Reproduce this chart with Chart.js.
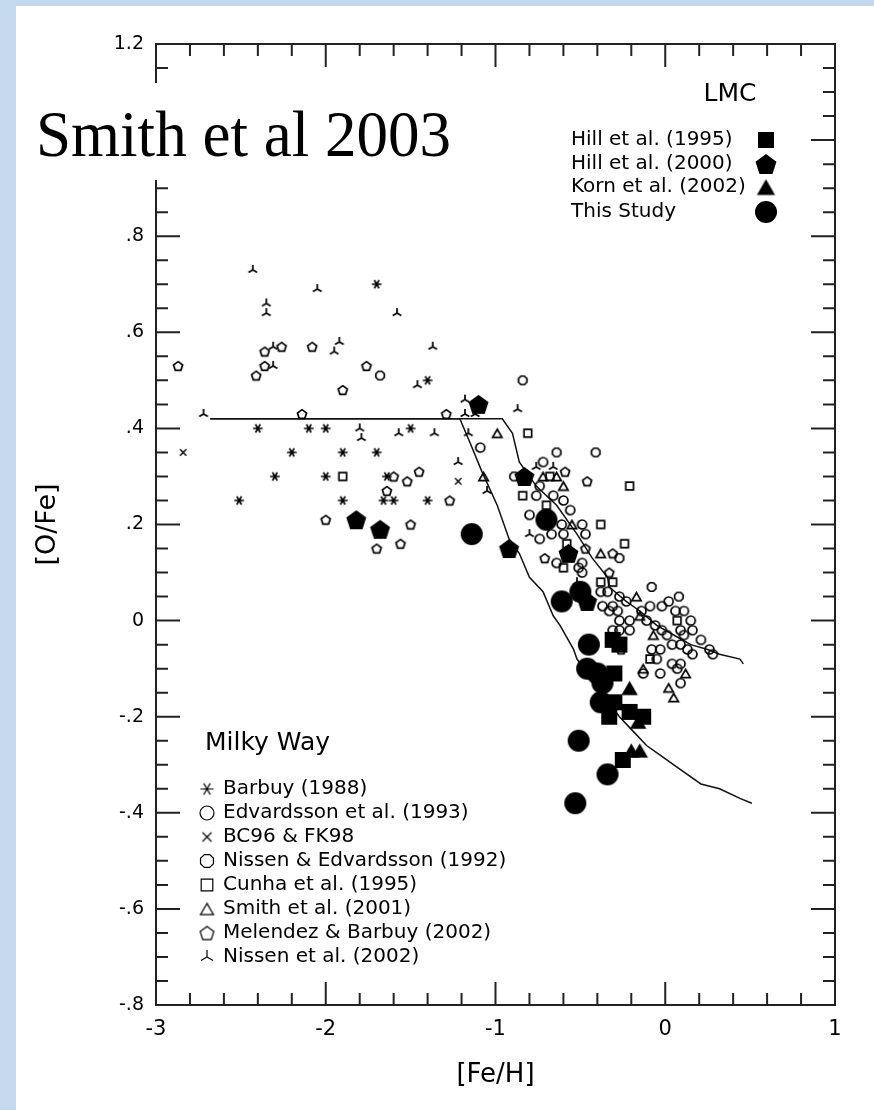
<!DOCTYPE html>
<html>
<head>
<meta charset="utf-8">
<script src="https://cdn.jsdelivr.net/npm/chart.js@4.4.1/dist/chart.umd.min.js"></script>
<style>
  html, body { margin: 0; padding: 0; background: #c5d9ee; }
  #panel { position: absolute; left: 16px; top: 6px; width: 858px; height: 1104px; background: #fff; }
  #c { position: absolute; left: 0; top: 0; display: block; }
</style>
</head>
<body>
<div id="panel"></div>
<canvas id="c" width="874" height="1110"></canvas>
<script>
// ---- [Fe/H], [O/Fe] pairs per source ----
const barbuy1988 = [[-1.70,0.70],[-1.40,0.50],[-2.40,0.40],[-2.10,0.40],[-2.00,0.40],[-1.50,0.40],
  [-2.20,0.35],[-1.90,0.35],[-1.70,0.35],[-2.30,0.30],[-2.00,0.30],[-1.64,0.30],[-2.51,0.25],
  [-1.90,0.25],[-1.66,0.25],[-1.60,0.25],[-1.40,0.25]];
const edvardsson1993 = [[-1.09,0.36],[-0.72,0.33],[-0.74,0.28],[-0.76,0.26],[-0.66,0.26],[-0.60,0.25],
  [-0.56,0.23],[-0.80,0.22],[-0.49,0.20],[-0.61,0.20],[-0.47,0.18],[-0.74,0.17],[-0.67,0.18],
  [-0.60,0.18],[-0.64,0.12],[-0.49,0.12],[-0.51,0.11],[-0.49,0.10],[-0.38,0.06],[-0.34,0.06],
  [-0.27,0.05],[-0.23,0.04],[-0.37,0.03],[-0.31,0.03],[-0.33,0.02],[-0.28,0.02],[0.02,0.04],
  [-0.02,0.03],[-0.09,0.03],[-0.14,0.02],[0.06,0.02],[0.11,0.02],[0.15,0.00],[-0.11,0.00],
  [-0.06,-0.01],[-0.21,0.00],[-0.27,0.00],[-0.31,-0.02],[-0.27,-0.02],[-0.21,-0.02],[-0.02,-0.02],
  [0.01,-0.03],[0.09,-0.02],[0.11,-0.03],[0.16,-0.02],[0.21,-0.04],[0.26,-0.06],[0.28,-0.07],
  [-0.08,-0.06],[-0.03,-0.06],[0.04,-0.05],[0.09,-0.05],[0.13,-0.06],[0.16,-0.07],[-0.05,-0.08],
  [0.04,-0.09],[0.09,-0.09],[0.07,-0.10],[-0.13,-0.11],[-0.03,-0.11],[0.09,-0.13]];
const bc96fk98 = [[-2.84,0.35],[-1.22,0.29]];
const nissenEdv1992 = [[-1.68,0.51],[-0.84,0.50],[-0.64,0.35],[-0.41,0.35],[-0.89,0.30],[-0.08,0.07],
  [0.08,0.05],[-0.27,0.13]];
const cunha1995 = [[-1.90,0.30],[-0.81,0.39],[-0.68,0.30],[-0.21,0.28],[-0.84,0.26],[-0.70,0.24],
  [-0.38,0.20],[-0.24,0.16],[-0.58,0.16],[-0.60,0.11],[-0.38,0.08],[-0.31,0.08],[0.07,0.00],[-0.09,-0.08]];
const smith2001 = [[-0.99,0.39],[-1.07,0.30],[-0.72,0.30],[-0.64,0.30],[-0.60,0.28],[-0.55,0.20],
  [-0.38,0.14],[-0.17,0.05],[-0.15,0.01],[-0.07,-0.03],[-0.13,-0.10],[0.12,-0.11],[0.02,-0.14],[0.05,-0.16]];
const melendez2002 = [[-2.87,0.53],[-2.36,0.56],[-2.26,0.57],[-2.08,0.57],[-2.36,0.53],[-2.41,0.51],
  [-1.76,0.53],[-1.90,0.48],[-2.14,0.43],[-1.29,0.43],[-1.45,0.31],[-1.64,0.27],[-1.27,0.25],
  [-2.00,0.21],[-1.50,0.20],[-1.70,0.15],[-1.56,0.16],[-1.60,0.30],[-1.52,0.29],[-0.59,0.31],
  [-0.46,0.29],[-0.47,0.15],[-0.31,0.14],[-0.71,0.13],[-0.33,0.10],[-0.26,-0.06]];
const nissen2002 = [[-2.43,0.73],[-2.05,0.69],[-2.35,0.66],[-2.35,0.64],[-1.58,0.64],[-1.92,0.58],
  [-1.95,0.56],[-1.37,0.57],[-2.31,0.57],[-2.31,0.53],[-1.46,0.49],[-1.18,0.46],[-2.72,0.43],
  [-1.18,0.43],[-1.12,0.43],[-1.80,0.40],[-1.79,0.38],[-1.57,0.39],[-1.36,0.39],[-1.16,0.39],
  [-1.22,0.33],[-1.05,0.27],[-0.87,0.44],[-0.76,0.32],[-0.66,0.32],[-0.80,0.18],[-0.52,0.08]];

// LMC samples
const hill1995 = [[-0.31,-0.04],[-0.27,-0.05],[-0.30,-0.11],[-0.30,-0.17],[-0.33,-0.20],[-0.21,-0.19],
  [-0.13,-0.20],[-0.25,-0.29]];
const hill2000 = [[-1.10,0.45],[-1.82,0.21],[-1.68,0.19],[-0.92,0.15],[-0.83,0.30],[-0.57,0.14],[-0.46,0.04]];
const korn2002 = [[-0.21,-0.14],[-0.16,-0.21],[-0.20,-0.27],[-0.15,-0.27]];
const thisStudy = [[-1.14,0.18],[-0.70,0.21],[-0.61,0.04],[-0.50,0.06],[-0.45,-0.05],[-0.46,-0.10],
  [-0.40,-0.11],[-0.37,-0.13],[-0.38,-0.17],[-0.51,-0.25],[-0.34,-0.32],[-0.53,-0.38]];

// chemical evolution model tracks
const modelSteep = [[-2.68,0.42],[-1.21,0.42],[-1.15,0.37],[-1.08,0.31],[-0.99,0.24],[-0.92,0.17],
  [-0.86,0.14],[-0.80,0.09],[-0.72,0.06],[-0.66,0.01],[-0.62,-0.01],[-0.54,-0.06],[-0.52,-0.08],
  [-0.27,-0.20],[-0.19,-0.23],[-0.11,-0.26],[-0.03,-0.28],[0.09,-0.31],[0.21,-0.34],[0.32,-0.35],
  [0.44,-0.37],[0.51,-0.38]];
const modelShallow = [[-2.68,0.42],[-0.96,0.42],[-0.90,0.39],[-0.86,0.33],[-0.76,0.28],[-0.64,0.24],
  [-0.52,0.18],[-0.43,0.13],[-0.34,0.09],[-0.33,0.07],[-0.23,0.04],[-0.15,0.02],[-0.05,-0.01],
  [0.05,-0.03],[0.15,-0.05],[0.25,-0.06],[0.32,-0.07],[0.44,-0.08],[0.46,-0.09]];

// axis labels
const xTickLabels = ['-3', '-2', '-1', '0', '1'];
const mwLegend = ['Barbuy (1988)', 'Edvardsson et al. (1993)', 'BC96 & FK98', 'Nissen & Edvardsson (1992)',
  'Cunha et al. (1995)', 'Smith et al. (2001)', 'Melendez & Barbuy (2002)', 'Nissen et al. (2002)'];
const lmcLegend = ['Hill et al. (1995)', 'Hill et al. (2000)', 'Korn et al. (2002)', 'This Study'];

// ---- plotting symbols drawn on small canvases ----
function marker(kind, r, filled, lw) {
  const pad = Math.ceil(lw) + 3;
  const s = Math.ceil(2 * r + 2 * pad);
  const cv = document.createElement('canvas');
  cv.width = s; cv.height = s;
  const g = cv.getContext('2d');
  const c = s / 2;
  g.strokeStyle = '#000'; g.fillStyle = '#000'; g.lineWidth = lw;
  g.lineJoin = 'miter'; g.lineCap = 'butt';
  const poly = (n, rot, cy) => {
    for (let i = 0; i < n; i++) {
      const a = rot + i * 2 * Math.PI / n;
      const px = c + r * Math.sin(a), py = cy - r * Math.cos(a);
      if (i) g.lineTo(px, py); else g.moveTo(px, py);
    }
    g.closePath();
  };
  const spokes = (angles) => {
    angles.forEach(a => { g.moveTo(c, c); g.lineTo(c + r * Math.sin(a), c - r * Math.cos(a)); });
  };
  let lineOnly = false;
  g.beginPath();
  switch (kind) {
    case 'circle': g.arc(c, c, r, 0, 2 * Math.PI); break;
    case 'oct': poly(8, Math.PI / 8, c); break;
    case 'pent': poly(5, 0, c + r * 0.1); break;
    case 'rect': g.rect(c - r, c - r, 2 * r, 2 * r); break;
    case 'tri': poly(3, 0, c + r * 0.25); break;
    case 'x': g.moveTo(c - r, c - r); g.lineTo(c + r, c + r); g.moveTo(c + r, c - r); g.lineTo(c - r, c + r); lineOnly = true; break;
    case 'ast': spokes([Math.PI/2, Math.PI/6, -Math.PI/6, -Math.PI/2, 7*Math.PI/6, 5*Math.PI/6]); lineOnly = true; break;
    case 'trip': spokes([0, 2*Math.PI/3, 4*Math.PI/3]); lineOnly = true; break;
  }
  if (filled && !lineOnly) g.fill(); else g.stroke();
  return cv;
}

const LW = 1.7;
const sym = {
  barbuy:   marker('ast', 4.8, false, LW),
  edv:      marker('circle', 4.5, false, LW),
  bc:       marker('x', 3.2, false, 1.4),
  ne:       marker('oct', 4.6, false, LW),
  cunha:    marker('rect', 3.8, false, LW),
  smith:    marker('tri', 5.4, false, LW),
  melendez: marker('pent', 4.8, false, LW),
  nissen:   marker('trip', 5, false, LW),
  hill95:   marker('rect', 8, true, 1),
  hill00:   marker('pent', 10.5, true, 1),
  korn:     marker('tri', 9.5, true, 1),
  study:    marker('circle', 11, true, 1)
};
const legSym = [
  marker('ast', 6.5, false, 1.2), marker('circle', 7, false, 1.2), marker('x', 4.5, false, 1.2),
  marker('oct', 7, false, 1.2), marker('rect', 5.8, false, 1.2), marker('tri', 7.5, false, 1.2),
  marker('pent', 7.2, false, 1.2), marker('trip', 7, false, 1.2)
];
const lmcSym = [sym.hill95, marker('pent', 11, true, 1), marker('tri', 10.5, true, 1), sym.study];

const pts = arr => arr.map(([x, y]) => ({ x, y }));
const scatterSet = (label, arr, style) => ({
  label, data: pts(arr), pointStyle: style, pointRadius: 5, showLine: false, order: 1
});
const lineSet = (label, arr) => ({
  label, data: pts(arr), showLine: true, pointRadius: 0, borderColor: '#111',
  borderWidth: 1.5, fill: false, tension: 0, order: 10
});

// ---- frame, inward ticks, title block and legends ----
const decorations = {
  id: 'decorations',
  beforeDatasetsDraw(chart) {
    const { ctx, chartArea: a, scales: { x, y } } = chart;
    ctx.save();
    ctx.strokeStyle = '#222';
    ctx.lineWidth = 2;
    ctx.strokeRect(a.left, a.top, a.right - a.left, a.bottom - a.top);
    ctx.beginPath();
    for (let i = 0; i <= 20; i++) {
      const px = x.getPixelForValue(-3 + i * 0.2);
      const L = i % 5 === 0 ? 23 : 12;
      ctx.moveTo(px, a.bottom); ctx.lineTo(px, a.bottom - L);
      ctx.moveTo(px, a.top); ctx.lineTo(px, a.top + L);
    }
    for (let i = 0; i <= 40; i++) {
      const py = y.getPixelForValue(-0.8 + i * 0.05);
      const L = i % 4 === 0 ? 24 : 12;
      ctx.moveTo(a.left, py); ctx.lineTo(a.left + L, py);
      ctx.moveTo(a.right, py); ctx.lineTo(a.right - L, py);
    }
    ctx.stroke();
    ctx.restore();
  },
  afterDraw(chart) {
    const ctx = chart.ctx;
    ctx.save();
    // headline block
    ctx.fillStyle = '#fff';
    ctx.fillRect(16, 83, 440, 97);
    ctx.fillStyle = '#000';
    ctx.font = '66px "Liberation Serif", "Times New Roman", serif';
    ctx.textBaseline = 'alphabetic';
    const head = 'Smith et al 2003';
    const w = ctx.measureText(head).width;
    ctx.translate(36, 156);
    ctx.scale(415 / w, 1);
    ctx.fillText(head, 0, 0);
    ctx.restore();

    ctx.save();
    ctx.fillStyle = '#000';
    ctx.textBaseline = 'middle';
    // LMC key
    ctx.font = '25px "DejaVu Sans"';
    ctx.textAlign = 'center';
    ctx.fillText('LMC', 730, 94);
    ctx.textAlign = 'left';
    ctx.font = '20px "DejaVu Sans"';
    const lmcY = [140, 164, 187, 212];
    lmcLegend.forEach((t, i) => {
      ctx.fillText(t, 571, lmcY[i]);
      const m = lmcSym[i];
      ctx.drawImage(m, 766 - m.width / 2, lmcY[i] - m.height / 2);
    });
    // Milky Way key
    ctx.font = '25px "DejaVu Sans"';
    ctx.fillText('Milky Way', 205, 743);
    ctx.font = '20px "DejaVu Sans"';
    mwLegend.forEach((t, i) => {
      const yy = 789 + 24 * i;
      ctx.fillText(t, 223, yy);
      const m = legSym[i];
      ctx.drawImage(m, 207 - m.width / 2, yy - m.height / 2);
    });
    ctx.restore();
  }
};

new Chart(document.getElementById('c'), {
  type: 'scatter',
  data: {
    datasets: [
      scatterSet('This Study', thisStudy, sym.study),
      scatterSet('Hill et al. (1995)', hill1995, sym.hill95),
      scatterSet('Hill et al. (2000)', hill2000, sym.hill00),
      scatterSet('Korn et al. (2002)', korn2002, sym.korn),
      scatterSet('Barbuy (1988)', barbuy1988, sym.barbuy),
      scatterSet('Edvardsson et al. (1993)', edvardsson1993, sym.edv),
      scatterSet('BC96 & FK98', bc96fk98, sym.bc),
      scatterSet('Nissen & Edvardsson (1992)', nissenEdv1992, sym.ne),
      scatterSet('Cunha et al. (1995)', cunha1995, sym.cunha),
      scatterSet('Smith et al. (2001)', smith2001, sym.smith),
      scatterSet('Melendez & Barbuy (2002)', melendez2002, sym.melendez),
      scatterSet('Nissen et al. (2002)', nissen2002, sym.nissen),
      lineSet('model A', modelSteep),
      lineSet('model B', modelShallow)
    ]
  },
  options: {
    responsive: false,
    animation: false,
    events: [],
    layout: { padding: { top: 44, right: 39, left: 0, bottom: 0 } },
    plugins: { legend: { display: false }, tooltip: { enabled: false } },
    scales: {
      x: {
        type: 'linear', min: -3, max: 1,
        grid: { display: false, drawTicks: false },
        border: { display: false },
        ticks: {
          stepSize: 1, padding: 12, maxRotation: 0, color: '#000',
          font: { family: 'DejaVu Sans', size: 21 },
          callback: v => xTickLabels[Math.round(v) + 3]
        },
        title: {
          display: true, text: '[Fe/H]', color: '#000',
          font: { family: 'DejaVu Sans', size: 26 },
          padding: { top: 0, bottom: 19 }
        },
        afterFit: s => { s.height = 105; }
      },
      y: {
        type: 'linear', min: -0.8, max: 1.2,
        grid: { display: false, drawTicks: false },
        border: { display: false },
        ticks: {
          stepSize: 0.2, padding: 12, color: '#000',
          font: { family: 'DejaVu Sans', size: 19 },
          callback: v => {
            if (Math.abs(v - 1) < 1e-6) return '';
            if (Math.abs(v) < 1e-6) return '0';
            return (Math.round(v * 10) / 10).toFixed(1).replace(/^(-?)0\./, '$1.');
          }
        },
        title: {
          display: true, text: '[O/Fe]', color: '#000',
          font: { family: 'DejaVu Sans', size: 27 },
          padding: { top: 32, bottom: 0 }
        },
        afterFit: s => { s.width = 156; }
      }
    }
  },
  plugins: [decorations]
});
</script>
</body>
</html>
